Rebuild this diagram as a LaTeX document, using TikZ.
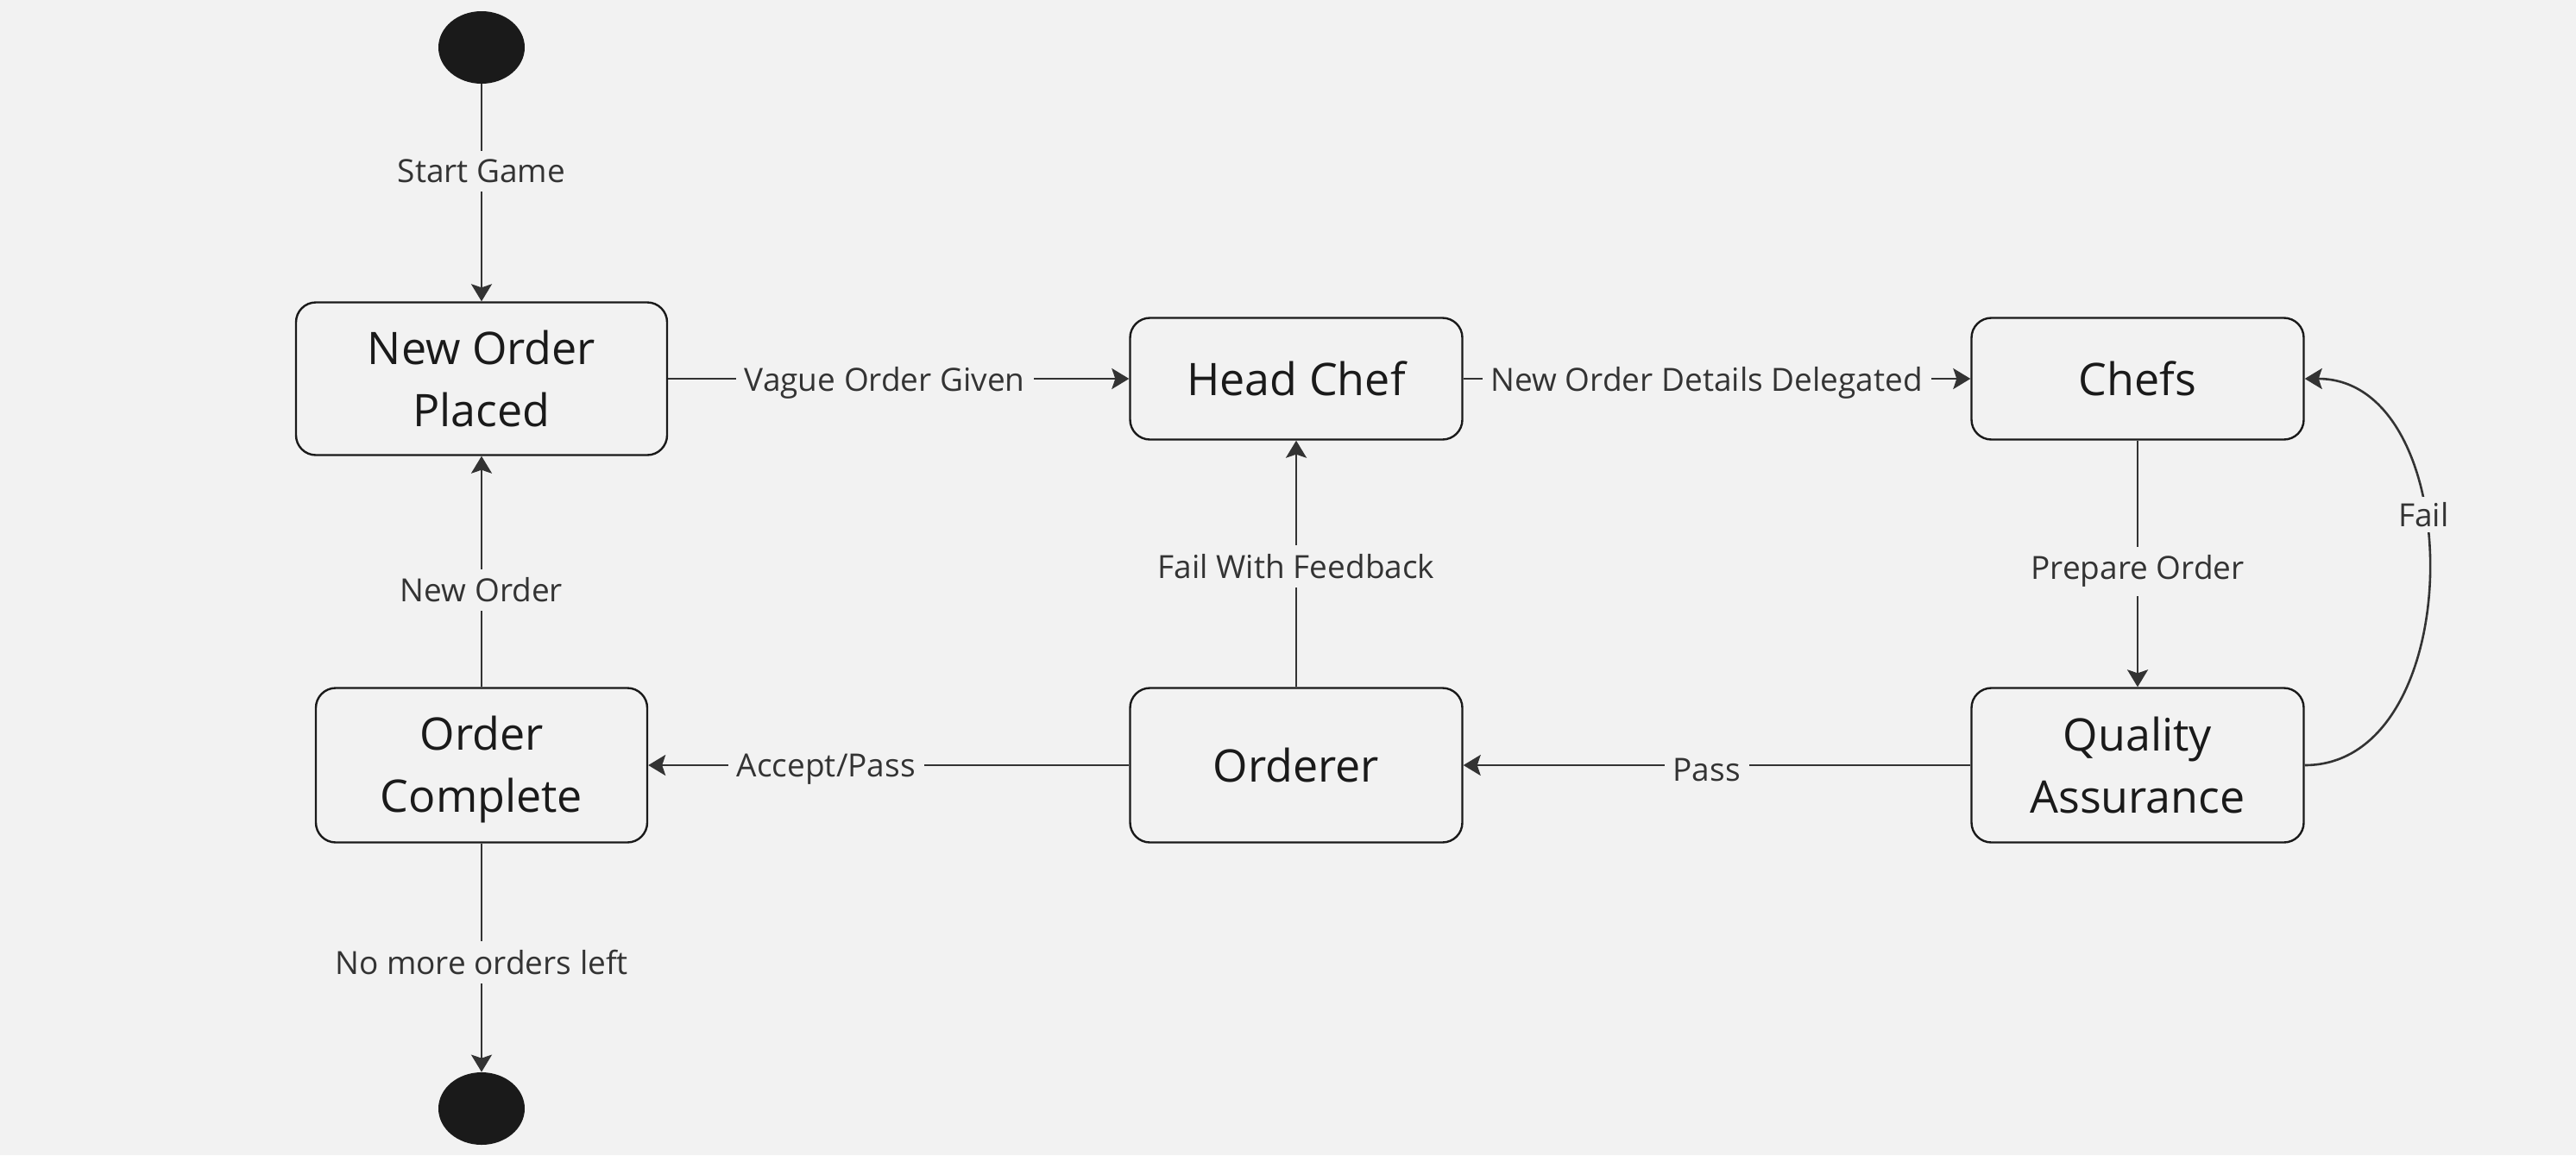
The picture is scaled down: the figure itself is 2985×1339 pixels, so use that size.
\documentclass[tikz,border=0pt]{standalone}
\usepackage{fontspec}
\setmainfont{Open Sans}
\usetikzlibrary{shapes.geometric,arrows.meta}
\definecolor{bg}{HTML}{F2F2F2}
\definecolor{ink}{HTML}{1A1A1A}
\definecolor{edgec}{HTML}{333333}
\tikzset{
  state/.style={draw=ink, fill=bg, line width=1.2pt, rounded corners=11.5pt,
    text=ink, align=center, inner sep=0pt, font=\fontsize{26}{36}\selectfont},
  dot/.style={ellipse, fill=ink, draw=none, minimum width=50pt, minimum height=42pt, inner sep=0pt},
  conn/.style={draw=edgec, line width=1.3pt, -{Stealth[length=10pt,width=12pt,inset=2pt]}},
  lbl/.style={fill=bg, text=edgec, inner sep=5pt, font=\fontsize{18.5}{22}\selectfont},
  hlbl/.style={lbl, yshift=-2.5pt}
}
\begin{document}
\begin{tikzpicture}[x=0.5pt,y=-0.5pt]
\fill[bg] (0,0) rectangle (2985,1339);
\useasboundingbox (0,0) rectangle (2985,1339);

\node[dot] (start) at (558,55) {};
\node[dot] (end) at (558,1285) {};

\node[state, minimum width=215pt, minimum height=88.5pt] (nop) at (558,439) {New Order\\Placed};
\node[state, minimum width=192.5pt, minimum height=70.5pt] (hc) at (1502,439) {Head Chef};
\node[state, minimum width=192.5pt, minimum height=70.5pt] (chefs) at (2477,439) {Chefs};
\node[state, minimum width=192pt, minimum height=89.5pt] (oc) at (558,887) {\rule{0pt}{25pt}Order\\Complete};
\node[state, minimum width=192.5pt, minimum height=89.5pt] (ord) at (1502,887) {Orderer};
\node[state, minimum width=192.5pt, minimum height=89.5pt] (qa) at (2477,887) {Quality\\Assurance};

\draw[conn] (start) -- node[lbl, pos=0.4] {Start Game} (nop);
\draw[conn] (nop) -- node[hlbl, pos=0.47] {Vague Order Given} (hc);
\draw[conn] (hc) -- node[hlbl, pos=0.48] {New Order Details Delegated} (chefs);
\draw[conn] (chefs) -- node[lbl, pos=0.53] {Prepare Order} (qa);
\draw[conn] (qa) -- node[hlbl, pos=0.52] {Pass} (ord);
\draw[conn] (ord) -- node[hlbl, pos=0.63] {Accept/Pass} (oc);
\draw[conn] (ord) -- node[lbl, pos=0.49] {Fail With Feedback} (hc);
\draw[conn] (oc) -- node[lbl, pos=0.42] {New Order} (nop);
\draw[conn] (oc) -- node[lbl, pos=0.52] {No more orders left} (end);
\draw[conn] (qa.east) .. controls (2862,887) and (2862,439) .. node[lbl, pos=0.6, inner sep=3pt] {Fail} (chefs.east);
\end{tikzpicture}
\end{document}
